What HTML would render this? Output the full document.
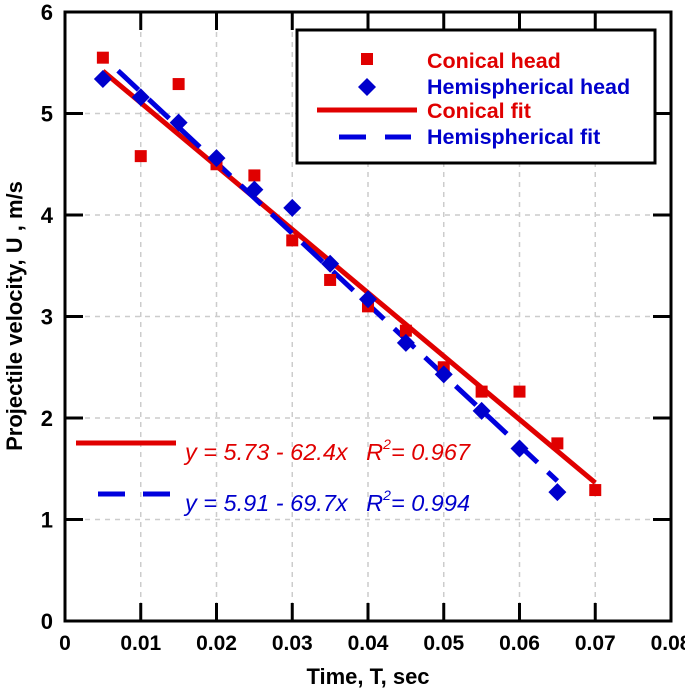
<!DOCTYPE html>
<html><head><meta charset="utf-8"><style>
body{margin:0;background:#fff}
svg{display:block;font-family:"Liberation Sans",Arial,sans-serif}
</style></head><body>
<svg id="c" width="685" height="694" viewBox="0 0 685 694" xmlns="http://www.w3.org/2000/svg"></svg>
<script>
const xTicks=[0,0.01,0.02,0.03,0.04,0.05,0.06,0.07,0.08];
const xTickLabels=["0","0.01","0.02","0.03","0.04","0.05","0.06","0.07","0.08"];
const yTicks=[0,1,2,3,4,5,6];
const yTickLabels=["0","1","2","3","4","5","6"];
const conicalT=[0.005,0.01,0.015,0.02,0.025,0.03,0.035,0.04,0.045,0.05,0.055,0.06,0.065,0.07];
const conicalU=[5.55,4.58,5.29,4.5,4.39,3.75,3.36,3.1,2.86,2.5,2.26,2.26,1.75,1.29];
const hemiT=[0.005,0.01,0.015,0.02,0.025,0.03,0.035,0.04,0.045,0.05,0.055,0.06,0.065];
const hemiU=[5.34,5.16,4.91,4.56,4.25,4.07,3.52,3.17,2.74,2.43,2.07,1.7,1.27];
const conicalFit=[5.73,-62.4];
const conicalFitRange=[0.005,0.07];
const hemiFit=[5.91,-69.7];
const hemiFitRange=[0.007,0.065];

const L=65,R=671,T=12,B=621;
const X=v=>L+(v-0)/0.08*(R-L);
const Y=v=>B-(v/6)*(B-T);
const svg=document.getElementById('c');
const NS='http://www.w3.org/2000/svg';
function mk(tag,attrs,parent){const e=document.createElementNS(NS,tag);for(const k in attrs)e.setAttribute(k,attrs[k]);(parent||svg).appendChild(e);return e;}

xTicks.forEach((t,i)=>{ if(i>0&&i<xTicks.length-1){
  const g=mk('line',{x1:X(t),x2:X(t),y1:T,y2:B,stroke:'#ccc','stroke-width':1.5,'stroke-dasharray':'5,5'});
  
  
  const tk=mk('line',{x1:X(t),x2:X(t),y1:B,y2:B-18,stroke:'#000','stroke-width':3});
  
  
  const tt=mk('line',{x1:X(t),x2:X(t),y1:T,y2:T+18,stroke:'#000','stroke-width':3});
  
  
}
  const lb=mk('text',{x:X(t),y:B+29,'text-anchor':'middle','font-size':21,'font-weight':'bold'});
  lb.textContent=xTickLabels[i];
  
  
});
yTicks.forEach((t,i)=>{ if(i>0&&i<yTicks.length-1){
  const g=mk('line',{x1:L,x2:R,y1:Y(t),y2:Y(t),stroke:'#ccc','stroke-width':1.5,'stroke-dasharray':'5,5'});
  
  
  const tk=mk('line',{x1:L,x2:L+18,y1:Y(t),y2:Y(t),stroke:'#000','stroke-width':3});
  
  
  const tr=mk('line',{x1:R,x2:R-18,y1:Y(t),y2:Y(t),stroke:'#000','stroke-width':3});
  
  
}
  const lb=mk('text',{x:L-12,y:Y(t)+8,'text-anchor':'end','font-size':22,'font-weight':'bold'});
  lb.textContent=yTickLabels[i];
  
  
});

const cf=mk('line',{x1:X(conicalFitRange[0]),y1:Y(conicalFit[0]+conicalFit[1]*conicalFitRange[0]),x2:X(conicalFitRange[1]),y2:Y(conicalFit[0]+conicalFit[1]*conicalFitRange[1]),stroke:'#e00000','stroke-width':5});


const hf=mk('line',{x1:X(hemiFitRange[0]),y1:Y(hemiFit[0]+hemiFit[1]*hemiFitRange[0]),x2:X(hemiFitRange[1]),y2:Y(hemiFit[0]+hemiFit[1]*hemiFitRange[1]),stroke:'#0000dd','stroke-width':5,'stroke-dasharray':'28,14'});



conicalT.forEach((t,i)=>{
  const r=mk('rect',{x:X(t)-6,y:Y(conicalU[i])-6,width:12,height:12,fill:'#e00000'});
  
  
});
hemiT.forEach((t,i)=>{
  const cx=X(t),cy=Y(hemiU[i]);
  const p=mk('polygon',{points:`${cx},${cy-9} ${cx+9},${cy} ${cx},${cy+9} ${cx-9},${cy}`,fill:'#0000cc'});
  
  
});
const frame=mk('rect',{x:65,y:12,width:606,height:609,fill:'none',stroke:'#000','stroke-width':3});



svg.insertAdjacentHTML('beforeend',`
<g>
<rect x="297" y="30" width="358" height="133" fill="#fff" stroke="#000" stroke-width="3"/>
<rect x="361" y="53" width="12" height="12" fill="#e00000"/>
<polygon points="367,78 376,87 367,96 358,87" fill="#0000cc"/>
<line x1="317" y1="110" x2="417" y2="110" stroke="#e00000" stroke-width="5"/>
<line x1="339" y1="137" x2="366" y2="137" stroke="#0000dd" stroke-width="5"/>
<line x1="385" y1="137" x2="411" y2="137" stroke="#0000dd" stroke-width="5"/>
<g font-size="21.5" font-weight="bold">
<text x="427" y="68" fill="#e00000">Conical head</text>
<text x="427" y="94" fill="#0000cc">Hemispherical head</text>
<text x="427" y="118" fill="#e00000">Conical fit</text>
<text x="427" y="144" fill="#0000cc">Hemispherical fit</text>
</g></g>
<line x1="76" y1="443" x2="176" y2="443" stroke="#e00000" stroke-width="5"/>
<line x1="98" y1="494" x2="125" y2="494" stroke="#0000dd" stroke-width="5"/>
<line x1="143" y1="494" x2="170" y2="494" stroke="#0000dd" stroke-width="5"/>
<text x="185" y="460" font-size="23.5" font-style="italic" fill="#e00000">y = 5.73 - 62.4x <tspan dx="12">R</tspan><tspan dy="-11" font-size="14">2</tspan><tspan dy="11">= 0.967</tspan></text>
<text x="185" y="511" font-size="23.5" font-style="italic" fill="#0000cc">y = 5.91 - 69.7x <tspan dx="12">R</tspan><tspan dy="-11" font-size="14">2</tspan><tspan dy="11">= 0.994</tspan></text>
<text x="368" y="684" font-size="22" font-weight="bold" text-anchor="middle">Time, T, sec</text>
<text transform="translate(22,316) rotate(-90)" font-size="22" font-weight="bold" text-anchor="middle">Projectile velocity, U , m/s</text>
`);
</script>
</body></html>
